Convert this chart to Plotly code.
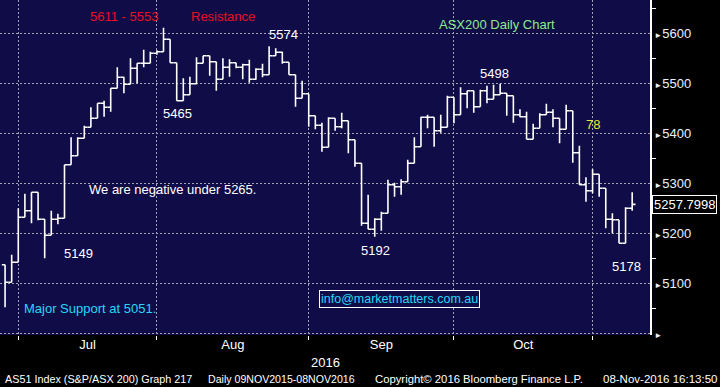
import plotly.graph_objects as go
import pandas as pd

# ---- data (ASX200 daily OHLC) ----
dates = pd.bdate_range("2016-06-28", "2016-11-08")

opens = [5137, 5102, 5142, 5232, 5245, 5282, 5228, 5196, 5228, 5230,
         5337, 5355, 5390, 5412, 5430, 5460, 5452, 5490, 5512, 5498,
         5530, 5540, 5540, 5560, 5563, 5588, 5541, 5465, 5477, 5499,
         5540, 5555, 5543, 5508, 5532, 5541, 5532, 5537, 5508, 5528,
         5517, 5555, 5562, 5542, 5517, 5470, 5479, 5435, 5416, 5372,
         5430, 5413, 5425, 5387, 5340, 5220, 5208, 5228, 5240, 5297,
         5293, 5303, 5340, 5373, 5432, 5432, 5405, 5412, 5472, 5437,
         5479, 5485, 5453, 5485, 5468, 5477, 5480, 5475, 5437, 5433,
         5388, 5410, 5437, 5442, 5430, 5408, 5445, 5361, 5297, 5285,
         5318, 5290, 5228, 5227, 5180, 5250]
highs = [5137, 5157, 5250, 5279, 5282, 5282, 5228, 5245, 5239, 5337,
         5392, 5392, 5415, 5452, 5460, 5465, 5490, 5532, 5513, 5550,
         5540, 5567, 5563, 5566, 5611, 5588, 5541, 5510, 5513, 5552,
         5555, 5555, 5543, 5550, 5548, 5541, 5539, 5547, 5530, 5539,
         5574, 5570, 5563, 5542, 5517, 5505, 5479, 5435, 5421, 5432,
         5430, 5441, 5425, 5387, 5340, 5277, 5230, 5243, 5307, 5301,
         5308, 5347, 5392, 5433, 5437, 5432, 5437, 5475, 5472, 5492,
         5485, 5485, 5487, 5495, 5497, 5499, 5480, 5475, 5448, 5443,
         5419, 5440, 5459, 5448, 5430, 5457, 5445, 5375, 5312, 5328,
         5318, 5290, 5240, 5227, 5252, 5282]
lows = [5052, 5102, 5142, 5232, 5220, 5226, 5150, 5196, 5218, 5230,
        5337, 5355, 5390, 5412, 5430, 5433, 5443, 5490, 5480, 5498,
        5500, 5532, 5540, 5557, 5563, 5541, 5465, 5465, 5477, 5498,
        5540, 5515, 5485, 5508, 5513, 5530, 5508, 5501, 5507, 5512,
        5517, 5555, 5539, 5517, 5453, 5470, 5413, 5408, 5363, 5372,
        5405, 5410, 5360, 5333, 5215, 5208, 5193, 5205, 5240, 5273,
        5277, 5303, 5340, 5373, 5410, 5373, 5401, 5412, 5420, 5437,
        5450, 5441, 5453, 5460, 5468, 5477, 5435, 5421, 5432, 5388,
        5388, 5410, 5437, 5412, 5380, 5408, 5341, 5297, 5263, 5280,
        5273, 5210, 5200, 5180, 5180, 5245]
closes = [5102, 5142, 5232, 5245, 5282, 5228, 5196, 5228, 5230, 5337,
          5355, 5390, 5412, 5430, 5460, 5452, 5490, 5512, 5498, 5530,
          5540, 5540, 5560, 5563, 5588, 5541, 5465, 5477, 5499, 5540,
          5555, 5543, 5508, 5532, 5541, 5532, 5537, 5508, 5528, 5517,
          5555, 5562, 5542, 5517, 5470, 5479, 5435, 5416, 5372, 5430,
          5413, 5425, 5387, 5340, 5220, 5208, 5228, 5240, 5297, 5293,
          5303, 5340, 5373, 5432, 5432, 5405, 5412, 5472, 5437, 5479,
          5485, 5453, 5485, 5468, 5477, 5480, 5475, 5437, 5433, 5388,
          5410, 5437, 5442, 5430, 5408, 5445, 5361, 5297, 5285, 5318,
          5290, 5228, 5227, 5180, 5250, 5257.7998]

y_major = [5000, 5100, 5200, 5300, 5400, 5500, 5600]
y_labels = ["", "5100", "5200", "5300", "5400", "5500", "5600"]
y_minor = [5050, 5150, 5250, 5350, 5450, 5550, 5650]
last_price_text = "5257.7998"

# ---- derived positions ----
x = list(range(len(dates)))
month_end_idx = [i for i in range(len(dates) - 1) if dates[i].month != dates[i + 1].month]
month_mid = [(a + b) / 2 for a, b in zip(month_end_idx[:-1], month_end_idx[1:])]
month_names = [dates[b].strftime("%b") for b in month_end_idx[1:]]

BG = "#100c48"
GRID = "#a4a4b4"
DASH = "2px,2px"
FONT = "Liberation Sans, Arial, sans-serif"

W_PLOT, H_PLOT = 650, 335


def px(xp):
    return xp / W_PLOT


def py(yp):
    return 1 - yp / H_PLOT


fig = go.Figure(go.Ohlc(
    x=x, open=opens, high=highs, low=lows, close=closes,
    increasing=dict(line=dict(color="white", width=1.6)),
    decreasing=dict(line=dict(color="white", width=1.6)),
    tickwidth=0.5, hoverinfo="skip",
))

tri = '<span style="font-size:8px">►</span>'
fig.update_layout(
    width=720, height=387,
    margin=dict(l=0, r=70, t=0, b=52),
    paper_bgcolor="black", plot_bgcolor=BG,
    showlegend=False, hovermode=False,
    font=dict(family=FONT, color="white", size=13),
    xaxis=dict(
        range=[-0.77, 97.7], rangeslider=dict(visible=False),
        tickmode="array", tickvals=month_mid, ticktext=month_names,
        ticks="", showgrid=False, zeroline=False, showline=False,
        tickfont=dict(color="white", size=13),
        minor=dict(tickmode="array", tickvals=month_end_idx, ticks="outside",
                   ticklen=4, tickcolor="white", tickwidth=1,
                   showgrid=True, gridcolor=GRID, griddash=DASH, gridwidth=1),
    ),
    yaxis=dict(
        side="right", range=[4996.6, 5666.6],
        tickmode="array", tickvals=y_major,
        ticktext=[tri + t for t in y_labels],
        ticks="", showgrid=True, gridcolor=GRID, griddash=DASH, gridwidth=1,
        zeroline=False, showline=True, linecolor="white", linewidth=1.5,
        tickfont=dict(color="#e8f0ff", size=13),
        minor=dict(tickmode="array", tickvals=y_minor, ticks="outside",
                   ticklen=4, tickcolor="white", showgrid=False),
    ),
)

notes = [
    ("5611 - 5553", 124, 16.5, "#e8101e"),
    ("Resistance", 223, 16, "#e8101e"),
    ("5574", 283, 34.7, "white"),
    ("ASX200 Daily Chart", 496.5, 25, "#8ceb8c"),
    ("5465", 177, 113, "white"),
    ("5498", 494, 73, "white"),
    ("78", 593, 124, "#e8e832"),
    ("We are negative under 5265.", 172, 189, "white"),
    ("5149", 78, 254, "white"),
    ("5192", 375.5, 250.5, "white"),
    ("5178", 626.3, 266, "white"),
    ("Major Support at 5051.", 89.5, 308, "#22d8f8"),
]
for text, xp, yp, col in notes:
    fig.add_annotation(text=text, x=px(xp), y=py(yp), xref="paper", yref="paper",
                       showarrow=False, xanchor="center", yanchor="middle",
                       font=dict(color=col, size=13, family=FONT))

fig.add_annotation(text="info@marketmatters.com.au", x=px(399.7), y=py(299.2),
                   xref="paper", yref="paper", showarrow=False,
                   xanchor="center", yanchor="middle",
                   font=dict(color="#22d8f8", size=12.5, family=FONT),
                   bordercolor="white", borderwidth=1, borderpad=1, bgcolor=BG)

fig.add_annotation(text="2016", x=0.5, y=py(362), xref="paper", yref="paper",
                   showarrow=False, xanchor="center", yanchor="middle",
                   font=dict(color="white", size=13, family=FONT))

# last price flag
fig.add_annotation(text=last_price_text, x=1, y=closes[-1], xref="paper", yref="y",
                   showarrow=False, xanchor="left", yanchor="middle", xshift=2,
                   font=dict(color="white", size=13, family=FONT),
                   bordercolor="white", borderwidth=1, borderpad=1, bgcolor="black")

footer = [
    ("AS51 Index (S&P/ASX 200) Graph 217", 2.7, "left", 10.8),
    ("Daily 09NOV2015-08NOV2016", 206, "left", 10.6),
    ("Copyright© 2016 Bloomberg Finance L.P.", 373, "left", 11.3),
    ("08-Nov-2016 16:13:50", 719, "right", 11.5),
]
for text, xp, anchor, fs in footer:
    fig.add_annotation(text=text, x=px(xp), y=py(379), xref="paper", yref="paper",
                       showarrow=False, xanchor=anchor, yanchor="middle",
                       font=dict(color="white", size=fs, family=FONT))

fig.write_html("out.html", config={"displayModeBar": False},
               post_script="document.body.style.margin='0';document.body.style.background='black';")
